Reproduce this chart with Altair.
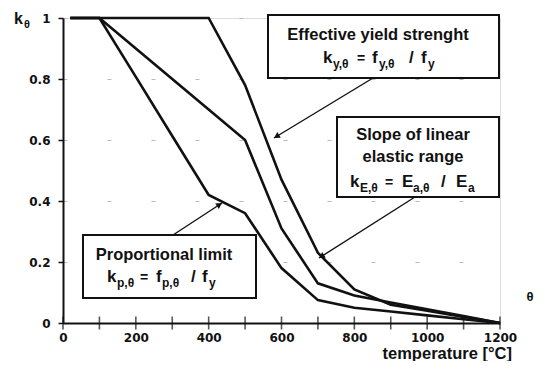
import math
import altair as alt
import pandas as pd

# ---- data (Eurocode reduction factors) ----
temps = [20, 100, 200, 300, 400, 500, 600, 700, 800, 900, 1000, 1100, 1200]
k_y = [1.0, 1.0, 1.0, 1.0, 1.0, 0.78, 0.47, 0.23, 0.11, 0.06, 0.04, 0.02, 0.0]
k_E = [1.0, 1.0, 0.9, 0.8, 0.7, 0.6, 0.31, 0.13, 0.09, 0.0675, 0.045, 0.0225, 0.0]
k_p = [1.0, 1.0, 0.807, 0.613, 0.42, 0.36, 0.18, 0.075, 0.05, 0.0375, 0.025, 0.0125, 0.0]
x_ticks = list(range(0, 1201, 100))
x_labels = [0, 200, 400, 600, 800, 1000, 1200]
y_ticks = [0, 0.2, 0.4, 0.6, 0.8, 1.0]

# ---- layout ----
W, H = 437, 305
OX, OY = 63, 18  # page position of plot origin


def px2d(px, py):
    return (px - OX) / W * 1200.0, (OY + H - py) / H


rows = []
for name, vals in [("ky", k_y), ("kE", k_E), ("kp", k_p)]:
    for t, v in zip(temps, vals):
        rows.append({"series": name, "T": t, "k": v})
df = pd.DataFrame(rows)

xs = alt.Scale(domain=[0, 1200], nice=False)
ys = alt.Scale(domain=[0, 1], nice=False)

FONT = "Liberation Sans"
TICKFONT = "DejaVu Sans"

lines = alt.Chart(df).mark_line(color="#111", strokeWidth=2.6, clip=False).encode(
    x=alt.X("T:Q", scale=xs, axis=alt.Axis(
        values=x_labels, format="d", title=None, ticks=False, grid=False, domainColor="#111",
        domainWidth=2, labelFont=TICKFONT, labelFontWeight="bold", labelFontSize=12,
        labelColor="#111", labelPadding=9, labelFlush=False)),
    y=alt.Y("k:Q", scale=ys, axis=alt.Axis(
        values=y_ticks, title=None, tickSize=5, tickColor="#111", tickWidth=1.5,
        domainColor="#111", domainWidth=2, labelFont=TICKFONT, labelFontWeight="bold",
        labelFontSize=12, labelColor="#111", labelPadding=8,
        labelExpr="datum.value == 1 ? '1' : datum.value == 0 ? '0' : format(datum.value, '.1f')",
        grid=True, gridDash=[4, 40], gridColor="#bbb", gridWidth=1)),
    detail="series:N",
)

xt = alt.Chart(pd.DataFrame({"T": x_ticks, "k": [0] * len(x_ticks)})).mark_tick(
    orient="vertical", size=13, thickness=1.6, color="#111").encode(
    x=alt.X("T:Q", scale=xs), y=alt.Y("k:Q", scale=ys))

# boxes (page pixel corners)
boxes_px = [(268, 15, 499, 78), (337, 117, 499, 197), (83, 235, 256, 298)]
brows = []
for x1, y1, x2, y2 in boxes_px:
    a = px2d(x1, y1)
    b = px2d(x2, y2)
    brows.append({"x": a[0], "y": a[1], "x2": b[0], "y2": b[1]})
boxes = alt.Chart(pd.DataFrame(brows)).mark_rect(
    fill="white", stroke="#111", strokeWidth=2).encode(
    x=alt.X("x:Q", scale=xs), x2="x2:Q", y=alt.Y("y:Q", scale=ys), y2="y2:Q")

# arrows
arrows_px = [(373, 78, 274, 138), (415, 197, 319, 258), (173, 235, 222, 203)]
arows, heads = [], []
for i, (x1, y1, x2, y2) in enumerate(arrows_px):
    a = px2d(x1, y1)
    b = px2d(x2, y2)
    arows.append({"id": i, "x": a[0], "y": a[1], "x2": b[0], "y2": b[1]})
    dx, dy = x2 - x1, y2 - y1
    L = math.hypot(dx, dy)
    ang = math.degrees(math.atan2(dx, -dy)) % 360
    hx, hy = x2 - dx / L * 3, y2 - dy / L * 3
    h = px2d(hx, hy)
    heads.append({"x": h[0], "y": h[1], "ang": ang})
arrow_lines = alt.Chart(pd.DataFrame(arows)).mark_rule(color="#111", strokeWidth=1.4).encode(
    x=alt.X("x:Q", scale=xs), x2="x2:Q", y=alt.Y("y:Q", scale=ys), y2="y2:Q")
arrow_heads = alt.Chart(pd.DataFrame(heads)).mark_point(
    shape="triangle-up", filled=True, color="#111", size=45, opacity=1).encode(
    x=alt.X("x:Q", scale=xs), y=alt.Y("y:Q", scale=ys),
    angle=alt.Angle("ang:Q", scale=None))

# centered title lines
titles = [("Effective yield strenght", 378, 35), ("Slope of linear", 413, 135),
          ("elastic range", 413, 157), ("Proportional limit", 164, 255)]
trows = []
for t, px, py in titles:
    d = px2d(px, py)
    trows.append({"t": t, "x": d[0], "y": d[1]})
title_text = alt.Chart(pd.DataFrame(trows)).mark_text(
    font=FONT, fontWeight="bold", fontSize=16.5, color="#111", align="center",
    baseline="middle").encode(
    x=alt.X("x:Q", scale=xs), y=alt.Y("y:Q", scale=ys), text="t:N")

# formula fragments: (text, left px, baseline px, size)
MAIN, SUB = 17, 12
frags = [
    ("k", 323, 63, MAIN), ("y,θ", 333, 68, SUB), ("=", 357, 63, 14), ("f", 372, 63, MAIN),
    ("y,θ", 379, 68, SUB), ("/", 409, 63, MAIN), ("f", 421, 63, MAIN), ("y", 428, 68, SUB),
    ("k", 350, 187, MAIN), ("E,θ", 360, 192, SUB), ("=", 385, 187, 14), ("E", 402, 187, MAIN),
    ("a,θ", 413, 192, SUB), ("/", 441, 187, MAIN), ("E", 456, 187, MAIN), ("a", 468, 192, SUB),
    ("k", 107, 282, MAIN), ("p,θ", 117, 287, SUB), ("=", 140, 282, 14), ("f", 156, 282, MAIN),
    ("p,θ", 162, 287, SUB), ("/", 191, 282, MAIN), ("f", 202, 282, MAIN), ("y", 209, 287, SUB),
]
frows = []
for t, px, py, s in frags:
    d = px2d(px, py)
    frows.append({"t": t, "x": d[0], "y": d[1], "s": s})
frag_text = alt.Chart(pd.DataFrame(frows)).mark_text(
    font=FONT, fontWeight="bold", color="#111", align="left",
    baseline="alphabetic").encode(
    x=alt.X("x:Q", scale=xs), y=alt.Y("y:Q", scale=ys), text="t:N",
    size=alt.Size("s:Q", scale=None))

# axis annotations (page pixel positions)
ann = [("k", 14, 24, 16, "left", "alphabetic"), ("θ", 24, 28, 11, "left", "alphabetic"),
       ("θ", 530, 297, 13, "center", "middle"),
       ("temperature [°C]", 512, 354, 16.5, "right", "middle")]
anrows = []
for t, px, py, s, al, bl in ann:
    d = px2d(px, py)
    anrows.append({"t": t, "x": d[0], "y": d[1], "s": s, "al": al, "bl": bl})
andf = pd.DataFrame(anrows)
ann_layers = []
for (al, bl), g in andf.groupby(["al", "bl"]):
    ann_layers.append(alt.Chart(g).mark_text(
        font=FONT, fontWeight="bold", color="#111", align=al, baseline=bl).encode(
        x=alt.X("x:Q", scale=xs), y=alt.Y("y:Q", scale=ys), text="t:N",
        size=alt.Size("s:Q", scale=None)))

chart = alt.layer(lines, xt, boxes, arrow_lines, arrow_heads, title_text, frag_text,
                  *ann_layers).properties(
    width=W, height=H, autosize=alt.AutoSizeParams(type="none"),
    padding={"left": OX - 8, "top": OY - 8, "right": 37, "bottom": 38},
).configure_view(stroke=None).configure(background="white")

chart.save("out.html", embed_options={"renderer": "svg", "actions": False})
